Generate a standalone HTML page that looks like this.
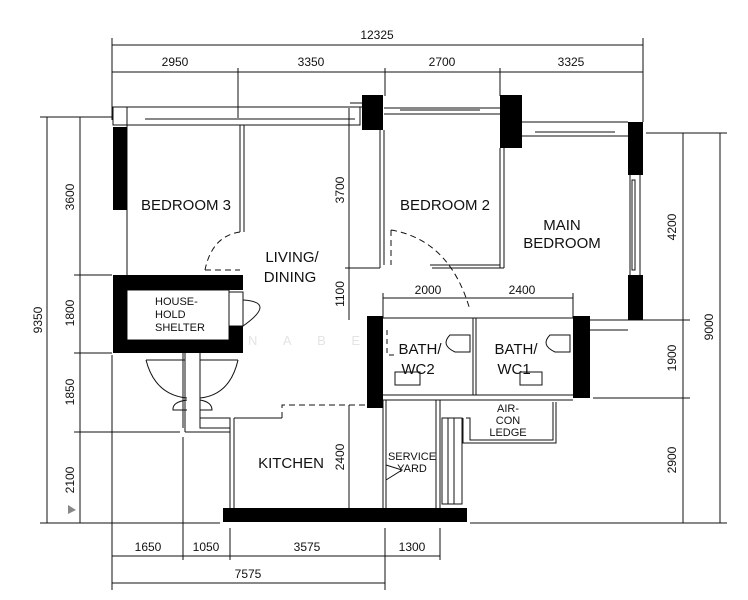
<!DOCTYPE html>
<html><head><meta charset="utf-8"><style>
html,body{margin:0;padding:0;background:#fff;}
svg{display:block;}
text{font-family:"Liberation Sans",sans-serif;fill:#111;}
.d{font-size:12px;}
.r{font-size:15px;}
</style></head><body>
<svg width="748" height="600" viewBox="0 0 748 600" xmlns="http://www.w3.org/2000/svg">
<g stroke="#111" stroke-width="1" fill="none">
<line x1="112" y1="45" x2="643" y2="45"/>
<line x1="112" y1="72" x2="643" y2="72"/>
<line x1="112" y1="38" x2="112" y2="120"/>
<line x1="643" y1="38" x2="643" y2="122"/>
<line x1="238" y1="68" x2="238" y2="118"/>
<line x1="385" y1="68" x2="385" y2="96"/>
<line x1="500" y1="68" x2="500" y2="96"/>
<line x1="47" y1="117" x2="47" y2="523"/>
<line x1="80" y1="117" x2="80" y2="523"/>
<line x1="40" y1="117" x2="112" y2="117"/>
<line x1="40" y1="523" x2="220" y2="523"/>
<line x1="74" y1="275" x2="112" y2="275"/>
<line x1="74" y1="353" x2="112" y2="353"/>
<line x1="74" y1="432" x2="180" y2="432"/>
<line x1="720" y1="133" x2="720" y2="523"/>
<line x1="683" y1="133" x2="683" y2="523"/>
<line x1="646" y1="133" x2="727" y2="133"/>
<line x1="593" y1="320" x2="690" y2="320"/>
<line x1="593" y1="398" x2="690" y2="398"/>
<line x1="470" y1="523" x2="727" y2="523"/>
<line x1="112" y1="556" x2="440" y2="556"/>
<line x1="112" y1="583" x2="385" y2="583"/>
<line x1="112" y1="355" x2="112" y2="590"/>
<line x1="183" y1="437" x2="183" y2="560"/>
<line x1="230" y1="528" x2="230" y2="560"/>
<line x1="385" y1="528" x2="385" y2="590"/>
<line x1="440" y1="528" x2="440" y2="560"/>
<line x1="183" y1="353" x2="183" y2="428"/>
<line x1="349" y1="108" x2="349" y2="320"/>
<line x1="345" y1="268" x2="380" y2="268"/>
<line x1="383" y1="298" x2="573" y2="298"/>
<line x1="383" y1="293" x2="383" y2="318"/>
<line x1="573" y1="293" x2="573" y2="318"/>
<line x1="349" y1="405" x2="349" y2="508"/>
<rect x="113" y="107" width="247" height="18"/>
<line x1="127" y1="107" x2="127" y2="125"/>
<line x1="145" y1="119" x2="355" y2="119"/>
<line x1="350" y1="103" x2="362" y2="103"/><line x1="350" y1="107" x2="362" y2="107"/>
<line x1="127" y1="125" x2="127" y2="275"/>
<line x1="240" y1="125" x2="240" y2="232"/><line x1="244" y1="125" x2="244" y2="232"/>
<path d="M240 232 Q212 236 205 270" stroke-dasharray="6,4"/>
<line x1="205" y1="270" x2="240" y2="270" stroke-dasharray="6,4"/>
<rect x="127" y="290" width="102" height="50" />
<rect x="229" y="292" width="14" height="34"/>
<path d="M243 300 Q277 302 243 326"/>
<line x1="380" y1="130" x2="380" y2="268"/><line x1="384" y1="130" x2="384" y2="265"/>
<line x1="500" y1="148" x2="500" y2="268"/><line x1="504" y1="148" x2="504" y2="268"/>
<line x1="430" y1="265" x2="500" y2="265"/><line x1="432" y1="268" x2="504" y2="268"/>
<line x1="384" y1="108" x2="500" y2="108"/><line x1="384" y1="114" x2="500" y2="114"/>
<line x1="400" y1="110" x2="480" y2="110"/>
<path d="M391 230 L391 265" stroke-dasharray="6,4"/>
<path d="M391 230 Q450 240 470 310" stroke-dasharray="6,4"/>
<line x1="522" y1="122" x2="628" y2="122"/><line x1="522" y1="136" x2="628" y2="136"/>
<line x1="535" y1="132" x2="615" y2="132"/>
<line x1="630" y1="175" x2="630" y2="275"/><line x1="640" y1="175" x2="640" y2="275"/>
<rect x="632" y="180" width="3" height="90"/>
<line x1="590" y1="320" x2="628" y2="320"/>
<line x1="590" y1="330" x2="628" y2="330"/>
<line x1="383" y1="318" x2="573" y2="318"/>
<line x1="473" y1="318" x2="473" y2="395"/><line x1="476" y1="318" x2="476" y2="395"/>
<line x1="383" y1="395" x2="573" y2="395"/><line x1="383" y1="400" x2="573" y2="400"/>
<path d="M387 330 L387 355 L395 355" stroke-dasharray="5,4"/>
<path d="M430 318 L460 318" stroke-dasharray="5,4"/>
<rect x="395" y="372" width="25" height="13"/>
<rect x="520" y="372" width="22" height="13"/>
<path d="M450 335 Q440 345 455 352 L470 352 L470 335 Z"/>
<path d="M550 335 Q540 345 555 352 L570 352 L570 335 Z"/>
<line x1="383" y1="400" x2="383" y2="508"/><line x1="386" y1="400" x2="386" y2="508"/>
<line x1="436" y1="400" x2="436" y2="508"/><line x1="440" y1="400" x2="440" y2="508"/>
<rect x="442" y="418" width="20" height="86"/>
<line x1="448" y1="418" x2="448" y2="504"/><line x1="454" y1="418" x2="454" y2="504"/>
<path d="M466 418 L470 418 L470 440 L553 440 L553 402"/>
<path d="M463 418 L463 443 L556 443 L556 402"/>
<path d="M386 465 L402 470 L386 480"/>
<line x1="230" y1="418" x2="230" y2="508"/><line x1="234" y1="418" x2="234" y2="508"/>
<line x1="234" y1="418" x2="282" y2="418"/>
<path d="M282 418 L282 405 L367 405" stroke-dasharray="6,4"/>
<line x1="185" y1="353" x2="185" y2="432"/><line x1="200" y1="353" x2="200" y2="418"/>
<line x1="185" y1="432" x2="230" y2="432"/>
<rect x="200" y="418" width="30" height="10"/>
<path d="M146 360 Q155 395 187 398"/><line x1="146" y1="360" x2="185" y2="360"/>
<path d="M238 360 Q230 395 200 398"/><line x1="200" y1="360" x2="238" y2="360"/>
<path d="M187 400 Q172 402 173 410 L187 410"/><path d="M200 400 Q212 402 212 410 L200 410"/>
</g>
<g fill="#000">
<rect x="113" y="127" width="14" height="83"/>
<rect x="113" y="275" width="130" height="15"/>
<rect x="113" y="290" width="14" height="63"/>
<rect x="113" y="340" width="130" height="13"/>
<rect x="229" y="326" width="14" height="14"/>
<rect x="362" y="95" width="21" height="35"/>
<rect x="500" y="95" width="22" height="53"/>
<rect x="628" y="122" width="15" height="53"/>
<rect x="628" y="275" width="15" height="45"/>
<rect x="367" y="316" width="16" height="92"/>
<rect x="573" y="316" width="17" height="82"/>
<rect x="223" y="508" width="244" height="14"/>
</g>
<polygon points="68,505 68,514 76,510" fill="#888"/>
<text class="d" x="377" y="39" text-anchor="middle">12325</text>
<text class="d" x="175" y="66" text-anchor="middle">2950</text>
<text class="d" x="311" y="66" text-anchor="middle">3350</text>
<text class="d" x="442" y="66" text-anchor="middle">2700</text>
<text class="d" x="571" y="66" text-anchor="middle">3325</text>
<text class="d" x="148" y="551" text-anchor="middle">1650</text>
<text class="d" x="206" y="551" text-anchor="middle">1050</text>
<text class="d" x="307" y="551" text-anchor="middle">3575</text>
<text class="d" x="412" y="551" text-anchor="middle">1300</text>
<text class="d" x="248" y="578" text-anchor="middle">7575</text>
<text class="d" x="428" y="294" text-anchor="middle">2000</text>
<text class="d" x="522" y="294" text-anchor="middle">2400</text>
<g class="d" text-anchor="middle">
<text transform="translate(42,320) rotate(-90)">9350</text>
<text transform="translate(74,197) rotate(-90)">3600</text>
<text transform="translate(74,313) rotate(-90)">1800</text>
<text transform="translate(74,392) rotate(-90)">1850</text>
<text transform="translate(74,480) rotate(-90)">2100</text>
<text transform="translate(344,190) rotate(-90)">3700</text>
<text transform="translate(344,294) rotate(-90)">1100</text>
<text transform="translate(344,457) rotate(-90)">2400</text>
<text transform="translate(676,227) rotate(-90)">4200</text>
<text transform="translate(676,358) rotate(-90)">1900</text>
<text transform="translate(676,460) rotate(-90)">2900</text>
<text transform="translate(713,327) rotate(-90)">9000</text>
</g>
<text class="r" x="141" y="210">BEDROOM 3</text>
<text class="r" x="400" y="210">BEDROOM 2</text>
<text class="r" x="562" y="230" text-anchor="middle">MAIN</text>
<text class="r" x="562" y="248" text-anchor="middle">BEDROOM</text>
<text class="r" x="292" y="262" text-anchor="middle">LIVING/</text>
<text class="r" x="290" y="282" text-anchor="middle">DINING</text>
<text class="r" x="291" y="468" text-anchor="middle">KITCHEN</text>
<text x="155" y="305" font-size="11">HOUSE-</text>
<text x="155" y="318" font-size="11">HOLD</text>
<text x="155" y="331" font-size="11">SHELTER</text>
<text class="r" x="420" y="354" text-anchor="middle">BATH/</text>
<text class="r" x="418" y="374" text-anchor="middle">WC2</text>
<text class="r" x="516" y="354" text-anchor="middle">BATH/</text>
<text class="r" x="514" y="374" text-anchor="middle">WC1</text>
<text x="412" y="460" font-size="11" text-anchor="middle">SERVICE</text>
<text x="412" y="472" font-size="11" text-anchor="middle">YARD</text>
<text x="508" y="412" font-size="11" text-anchor="middle">AIR-</text>
<text x="508" y="424" font-size="11" text-anchor="middle">CON</text>
<text x="508" y="436" font-size="11" text-anchor="middle">LEDGE</text>
<text x="248" y="345" font-size="13" style="fill:#e4e4e4" textLength="112" lengthAdjust="spacing">NABE</text>
</svg>
</body></html>
